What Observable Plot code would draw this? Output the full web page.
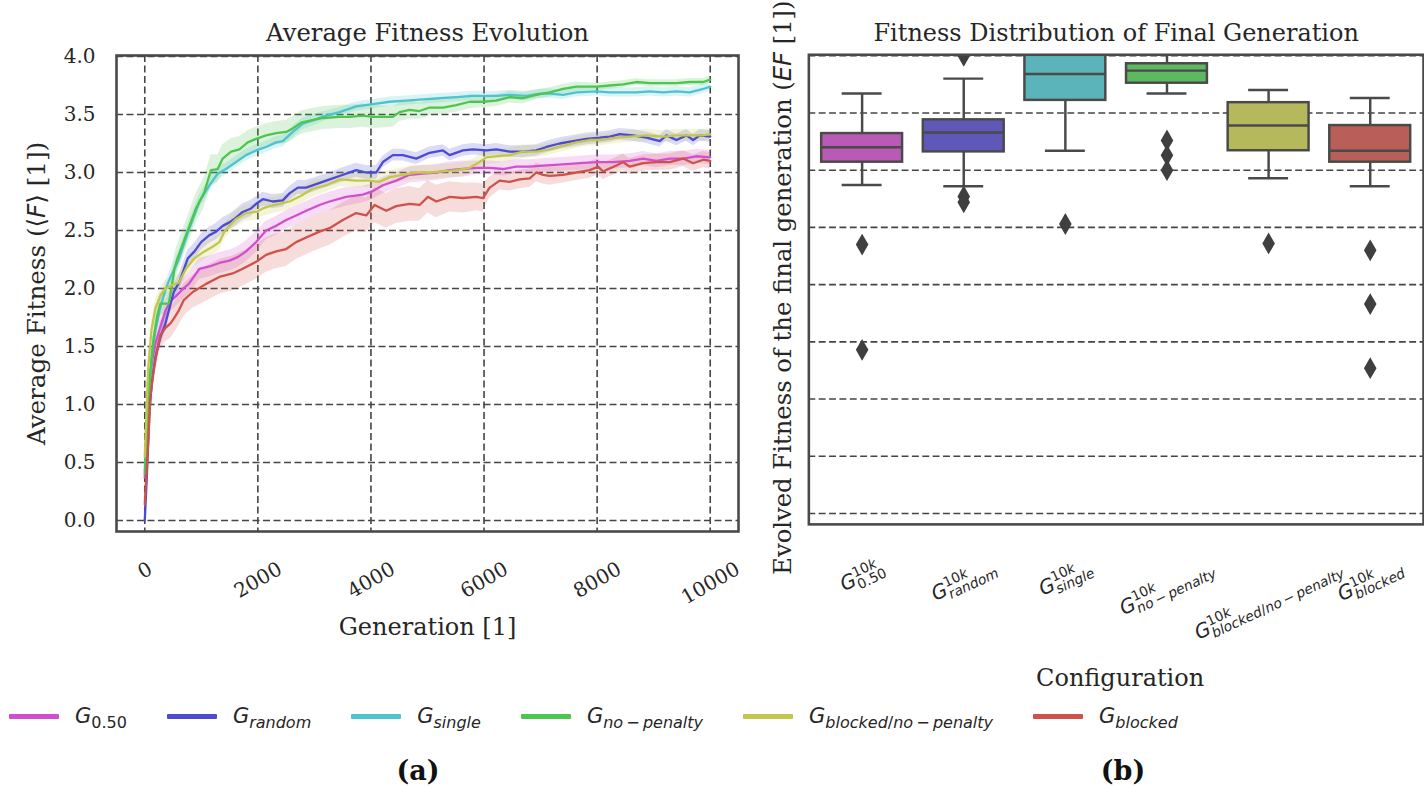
<!DOCTYPE html>
<html>
<head>
<meta charset="utf-8">
<script src="https://cdn.jsdelivr.net/npm/d3@7"></script>
<script src="https://cdn.jsdelivr.net/npm/@observablehq/plot@0.6"></script>
<style>
  html, body { margin: 0; padding: 0; background: #fff; }
  body { width: 1424px; height: 786px; overflow: hidden; position: relative; font-family: "DejaVu Serif"; color: #262626; }
  #plotA { position: absolute; left: 0; top: 0; }
  #plotB { position: absolute; left: 760px; top: 0; }
  #legend { position: absolute; left: 9px; top: 702px; display: flex; align-items: center; gap: 40px;
            font-family: "DejaVu Sans"; font-size: 21px; color: #262626; }
  .item { display: flex; align-items: center; gap: 16px; position: relative; height: 28px; }
  .sw { display: inline-block; width: 50px; height: 5px; border-radius: 1px; }
  .sub { font-size: 16px; position: relative; top: 5px; }
  #legtitle { position: absolute; left: 3px; top: -38px; font-family: "DejaVu Serif"; font-size: 24px; white-space: nowrap; }
  .panel { position: absolute; top: 770px; transform: translate(-50%, -50%); font-family: "DejaVu Serif"; font-weight: bold; font-size: 27px; color: #111; }
</style>
</head>
<body>
<div id="plotA"></div>
<div id="plotB"></div>
<div id="legend"></div>
<div class="panel" style="left:418px">(a)</div>
<div class="panel" style="left:1123px">(b)</div>
<script>
// ---------------- data ----------------
// each entry: [generation, mean fitness, half-width of the shaded band]
const g050 = [[0,0.37,0.05],[71,1.15,0.09],[130,1.38,0.09],[189,1.53,0.09],[277,1.67,0.09],[366,1.81,0.09],[454,1.89,0.09],[543,1.93,0.09],[661,1.99,0.09],[779,2.04,0.09],[967,2.17,0.09],[1144,2.19,0.09],[1319,2.22,0.09],[1497,2.24,0.09],[1644,2.27,0.09],[1791,2.32,0.09],[1969,2.40,0.09],[2146,2.50,0.08],[2323,2.54,0.08],[2500,2.59,0.08],[2677,2.63,0.08],[2855,2.67,0.08],[3090,2.72,0.08],[3267,2.75,0.08],[3562,2.79,0.08],[3857,2.81,0.07],[4034,2.84,0.07],[4211,2.89,0.07],[4447,2.93,0.07],[4683,2.98,0.07],[4919,2.99,0.07],[5155,3.00,0.07],[5391,3.02,0.07],[5627,3.03,0.07],[5863,3.04,0.06],[6099,3.04,0.06],[6335,3.03,0.06],[6571,3.05,0.06],[6807,3.05,0.06],[7043,3.06,0.06],[7397,3.07,0.06],[7692,3.08,0.06],[7987,3.09,0.06],[8282,3.09,0.06],[8577,3.10,0.06],[8813,3.12,0.06],[9049,3.10,0.06],[9285,3.12,0.06],[9521,3.12,0.06],[9757,3.14,0.06],[10000,3.13,0.06]];
const gRandom = [[0,0.0,0.03],[41,0.43,0.06],[83,0.95,0.07],[130,1.21,0.07],[189,1.41,0.07],[277,1.58,0.07],[366,1.70,0.07],[425,1.81,0.07],[513,1.97,0.07],[614,2.06,0.07],[761,2.26,0.07],[879,2.32,0.07],[997,2.40,0.07],[1144,2.46,0.07],[1262,2.49,0.07],[1378,2.54,0.07],[1497,2.57,0.07],[1614,2.61,0.07],[1732,2.66,0.07],[1880,2.69,0.07],[1969,2.73,0.06],[2088,2.77,0.06],[2265,2.75,0.06],[2441,2.76,0.06],[2560,2.82,0.06],[2707,2.87,0.06],[2855,2.87,0.06],[3031,2.90,0.06],[3208,2.93,0.06],[3444,2.97,0.06],[3739,3.02,0.06],[3916,3.00,0.06],[4093,3.00,0.06],[4211,3.09,0.05],[4388,3.15,0.05],[4565,3.15,0.05],[4801,3.12,0.05],[5037,3.17,0.05],[5273,3.19,0.05],[5391,3.15,0.05],[5627,3.19,0.05],[5804,3.20,0.05],[6040,3.19,0.05],[6217,3.20,0.05],[6453,3.18,0.05],[6689,3.18,0.05],[6925,3.19,0.05],[7102,3.22,0.05],[7338,3.25,0.05],[7574,3.27,0.05],[7810,3.29,0.05],[8046,3.30,0.05],[8223,3.31,0.05],[8400,3.33,0.05],[8636,3.32,0.05],[8872,3.30,0.05],[9108,3.27,0.05],[9226,3.32,0.05],[9403,3.28,0.05],[9580,3.32,0.05],[9698,3.28,0.05],[9816,3.32,0.05],[10000,3.31,0.05]];
const gSingle = [[0,0.43,0.05],[71,1.07,0.08],[130,1.44,0.08],[189,1.64,0.08],[277,1.84,0.08],[366,1.99,0.07],[454,2.10,0.07],[584,2.23,0.07],[790,2.52,0.07],[967,2.75,0.06],[1144,2.89,0.06],[1290,2.99,0.06],[1437,3.03,0.05],[1614,3.09,0.05],[1791,3.15,0.05],[1969,3.19,0.05],[2146,3.22,0.05],[2323,3.26,0.05],[2441,3.27,0.05],[2618,3.35,0.05],[2794,3.42,0.05],[2971,3.45,0.05],[3208,3.49,0.04],[3444,3.52,0.04],[3739,3.57,0.04],[4034,3.59,0.04],[4329,3.61,0.04],[4624,3.62,0.04],[4919,3.63,0.04],[5214,3.64,0.04],[5509,3.65,0.04],[5804,3.66,0.04],[6040,3.66,0.04],[6217,3.66,0.04],[6453,3.67,0.04],[6748,3.66,0.04],[6984,3.68,0.04],[7161,3.68,0.04],[7397,3.67,0.04],[7633,3.69,0.04],[7987,3.70,0.04],[8223,3.69,0.04],[8459,3.69,0.04],[8695,3.69,0.04],[8931,3.70,0.04],[9167,3.69,0.04],[9403,3.70,0.04],[9639,3.69,0.04],[9875,3.72,0.04],[10000,3.74,0.04]];
const gNoPenalty = [[0,0.40,0.05],[59,0.86,0.08],[100,1.30,0.10],[159,1.58,0.10],[218,1.76,0.10],[277,1.87,0.10],[366,1.87,0.10],[425,1.87,0.10],[484,2.04,0.11],[525,2.17,0.12],[572,2.25,0.12],[730,2.46,0.12],[906,2.69,0.13],[1053,2.83,0.13],[1171,3.02,0.13],[1290,3.03,0.12],[1378,3.12,0.12],[1526,3.18,0.11],[1674,3.20,0.11],[1821,3.26,0.10],[1969,3.29,0.10],[2146,3.32,0.10],[2323,3.34,0.10],[2500,3.35,0.10],[2618,3.38,0.10],[2765,3.43,0.10],[2942,3.45,0.10],[3149,3.47,0.10],[3444,3.48,0.10],[3621,3.48,0.10],[3857,3.49,0.10],[4034,3.48,0.10],[4388,3.48,0.09],[4506,3.52,0.08],[4683,3.54,0.08],[4860,3.53,0.07],[5037,3.56,0.07],[5273,3.56,0.06],[5509,3.58,0.06],[5745,3.61,0.06],[5981,3.61,0.05],[6217,3.62,0.05],[6453,3.65,0.05],[6689,3.64,0.05],[6925,3.67,0.04],[7161,3.69,0.04],[7397,3.72,0.04],[7633,3.74,0.04],[7987,3.74,0.03],[8223,3.75,0.03],[8459,3.76,0.03],[8695,3.78,0.03],[8931,3.77,0.03],[9167,3.77,0.03],[9403,3.77,0.03],[9639,3.78,0.03],[9875,3.78,0.03],[10000,3.80,0.03]];
const gBlockedNoPenalty = [[0,0.55,0.05],[59,1.30,0.08],[118,1.64,0.08],[189,1.83,0.07],[277,1.94,0.07],[366,2.00,0.07],[484,2.03,0.07],[602,2.05,0.07],[730,2.17,0.07],[879,2.26,0.07],[1053,2.32,0.07],[1200,2.36,0.07],[1319,2.40,0.07],[1408,2.49,0.07],[1497,2.54,0.07],[1614,2.60,0.07],[1791,2.65,0.07],[1969,2.66,0.07],[2088,2.69,0.07],[2205,2.71,0.07],[2382,2.73,0.07],[2560,2.75,0.07],[2765,2.80,0.07],[2971,2.86,0.07],[3208,2.89,0.06],[3444,2.94,0.06],[3739,2.93,0.06],[3975,2.93,0.06],[4152,2.92,0.06],[4329,2.96,0.06],[4565,2.98,0.06],[4801,3.00,0.06],[5037,3.00,0.06],[5273,3.01,0.06],[5509,3.02,0.06],[5745,3.04,0.06],[5922,3.09,0.06],[6040,3.13,0.06],[6217,3.14,0.06],[6453,3.15,0.06],[6689,3.18,0.06],[6925,3.18,0.05],[7161,3.20,0.05],[7397,3.23,0.05],[7633,3.26,0.05],[7869,3.28,0.05],[8046,3.28,0.05],[8341,3.30,0.05],[8577,3.31,0.05],[8872,3.32,0.05],[9167,3.31,0.05],[9403,3.32,0.05],[9639,3.32,0.05],[9875,3.32,0.05],[10000,3.33,0.05]];
const gBlocked = [[0,0.14,0.05],[59,0.66,0.10],[100,1.07,0.12],[159,1.30,0.12],[218,1.47,0.12],[277,1.60,0.12],[366,1.66,0.12],[454,1.70,0.13],[513,1.74,0.13],[602,1.81,0.13],[690,1.90,0.14],[848,1.97,0.14],[1085,2.04,0.15],[1319,2.10,0.15],[1555,2.13,0.15],[1732,2.17,0.15],[1969,2.23,0.15],[2146,2.29,0.15],[2323,2.32,0.15],[2500,2.34,0.15],[2677,2.40,0.15],[2855,2.44,0.15],[3090,2.49,0.15],[3267,2.52,0.15],[3503,2.59,0.15],[3739,2.65,0.15],[3916,2.63,0.15],[4064,2.72,0.15],[4270,2.67,0.15],[4447,2.71,0.15],[4683,2.73,0.15],[4860,2.72,0.14],[5007,2.79,0.14],[5155,2.75,0.14],[5391,2.79,0.13],[5627,2.78,0.13],[5863,2.79,0.12],[5981,2.78,0.12],[6099,2.87,0.09],[6276,2.93,0.08],[6453,2.92,0.08],[6630,2.94,0.08],[6807,2.95,0.08],[6925,3.00,0.08],[7043,2.98,0.08],[7161,2.97,0.08],[7397,2.98,0.07],[7633,3.00,0.07],[7869,3.02,0.07],[8016,3.05,0.07],[8105,3.01,0.07],[8341,3.06,0.07],[8459,3.09,0.07],[8577,3.05,0.07],[8813,3.08,0.07],[9049,3.09,0.07],[9285,3.09,0.07],[9521,3.12,0.07],[9698,3.08,0.07],[9875,3.11,0.07],[10000,3.10,0.07]];

const seriesKeys   = ["G0.50", "Grandom", "Gsingle", "Gno-penalty", "Gblocked/no-penalty", "Gblocked"];
const seriesSubs   = ["0.50", "random", "single", "no\u2009\u2212\u2009penalty", "blocked/no\u2009\u2212\u2009penalty", "blocked"];
const seriesData   = [g050, gRandom, gSingle, gNoPenalty, gBlockedNoPenalty, gBlocked];
const lineColors   = ["#d14fcf", "#4d4bd2", "#4cc3cf", "#4dc54e", "#c3c64c", "#d0514a"];
const boxColors    = ["#b95bb6", "#5f58b9", "#5bb4ba", "#5db960", "#b6b95b", "#b95f58"];

const xTicks = [0, 2000, 4000, 6000, 8000, 10000];
const yTicks = [0, 0.5, 1, 1.5, 2, 2.5, 3, 3.5, 4];

// box-plot summaries of the final generation, one per configuration
const whiskerLo = [2.87, 2.86, 3.17, 3.67, 2.93, 2.86];
const q1        = [3.07, 3.16, 3.61, 3.76, 3.17, 3.07];
const median    = [3.20, 3.33, 3.84, 3.87, 3.39, 3.17];
const q3        = [3.32, 3.44, 4.05, 3.93, 3.59, 3.39];
const whiskerHi = [3.67, 3.80, 4.25, 4.06, 3.70, 3.63];
const outlierCat = [0, 0, 1, 1, 1, 2, 3, 3, 3, 4, 5, 5, 5];
const outlierVal = [2.35, 1.43, 4.00, 2.77, 2.72, 2.53, 3.26, 3.13, 3.00, 2.36, 2.30, 1.83, 1.27];

const titleA = "Average Fitness Evolution";
const titleB = "Fitness Distribution of Final Generation";
const xLabelA = "Generation [1]";
const yLabelA = "Average Fitness (\u27E8F\u27E9 [1])";
const yLabelB = "Evolved Fitness of the final generation (EF [1])";
const legendTitle = "Configuration";

// ---------------- derived tables ----------------
const rows = [];
seriesData.forEach((pts, s) => pts.forEach(([gen, m, h]) =>
  rows.push({series: seriesKeys[s], color: lineColors[s], gen, mean: m, lo: m - h, hi: m + h})));
const boxes = seriesKeys.map((k, i) => ({cat: k, lo: whiskerLo[i], q1: q1[i], med: median[i], q3: q3[i], hi: whiskerHi[i], color: boxColors[i]}));
const outliers = outlierCat.map((c, i) => ({cat: seriesKeys[c], v: outlierVal[i]}));

// ---------------- styling ----------------
const gridStyle = {stroke: "#454545", strokeOpacity: 1, strokeWidth: 1.6, strokeDasharray: "7,3.5"};
const edge = "#4a4a4a";
const frameStyle = {stroke: "#4a4a4a", strokeWidth: 2.6};
const yDomain = [-0.0948, 4.0086];
const H = 650, MT = 55, MB = 119;
const titleSize = 24.3, labelSize = 24.6, tickSize = 20;

const plotA = Plot.plot({
  width: 760, height: H, marginLeft: 116, marginRight: 22, marginTop: MT, marginBottom: MB,
  style: {fontFamily: "DejaVu Serif", fontSize: tickSize + "px", color: "#262626", background: "transparent", overflow: "visible"},
  x: {domain: [-500, 10500], axis: null},
  y: {domain: yDomain, axis: null},
  color: {type: "identity"},
  marks: [
    Plot.gridX(xTicks, gridStyle),
    Plot.gridY(yTicks, gridStyle),
    Plot.areaY(rows, {x: "gen", y1: "lo", y2: "hi", z: "series", fill: "color", fillOpacity: 0.2}),
    Plot.line(rows, {x: "gen", y: "mean", z: "series", stroke: "color", strokeWidth: 2.3}),
    Plot.frame(frameStyle),
    Plot.axisY(yTicks, {tickSize: 0, tickPadding: 21, tickFormat: d3.format(".1f"), label: null, fontSize: tickSize}),
    Plot.text(xTicks, {x: d => d, text: d => String(d), frameAnchor: "bottom", rotate: -30, fontSize: tickSize}),
    Plot.text([titleA], {text: d => d, frameAnchor: "top", textAnchor: "middle", lineAnchor: "middle", dy: -22, fontSize: titleSize}),
    Plot.text([xLabelA], {text: d => d, frameAnchor: "bottom", textAnchor: "middle", lineAnchor: "middle", dy: 96, fontSize: 24}),
    Plot.text([yLabelA], {text: d => d, frameAnchor: "left", textAnchor: "middle", lineAnchor: "middle", dx: -79, rotate: -90, fontSize: labelSize})
  ]
});

const innerB = 673 - 49 - 1;
const capInset = innerB / seriesKeys.length * 0.8 / 4;
const plotB = Plot.plot({
  width: 673, height: H, marginLeft: 49, marginRight: 1, marginTop: MT, marginBottom: MB,
  style: {fontFamily: "DejaVu Serif", fontSize: tickSize + "px", color: "#262626", background: "transparent", overflow: "visible"},
  x: {type: "band", domain: seriesKeys, paddingInner: 0.2, paddingOuter: 0.1, axis: null},
  y: {domain: yDomain, axis: null},
  color: {type: "identity"},
  marks: [
    Plot.gridY(yTicks, gridStyle),
    Plot.ruleX(boxes, {x: "cat", y1: "lo", y2: "q1", stroke: edge, strokeWidth: 2.5, clip: true}),
    Plot.ruleX(boxes, {x: "cat", y1: "q3", y2: "hi", stroke: edge, strokeWidth: 2.5, clip: true}),
    Plot.tickY(boxes, {x: "cat", y: "lo", insetLeft: capInset, insetRight: capInset, stroke: edge, strokeWidth: 2.5, clip: true}),
    Plot.tickY(boxes, {x: "cat", y: "hi", insetLeft: capInset, insetRight: capInset, stroke: edge, strokeWidth: 2.5, clip: true}),
    Plot.barY(boxes, {x: "cat", y1: "q1", y2: "q3", fill: "color", stroke: edge, strokeWidth: 2.5, clip: true}),
    Plot.tickY(boxes, {x: "cat", y: "med", stroke: edge, strokeWidth: 2.5, clip: true}),
    Plot.dot(outliers, {x: "cat", y: "v", symbol: "diamond", r: 6.7, fill: "#3f3f3f", stroke: "none", clip: true}),
    Plot.frame(frameStyle),
    Plot.text(seriesKeys, {x: d => d, text: d => d, frameAnchor: "bottom", rotate: -25, fontSize: tickSize}),
    Plot.text([titleB], {text: d => d, frameAnchor: "top", textAnchor: "middle", lineAnchor: "middle", dy: -22, fontSize: titleSize}),
    Plot.text([yLabelB], {text: d => d, frameAnchor: "left", textAnchor: "middle", lineAnchor: "middle", dx: -26, dy: -2, rotate: -90, fontSize: labelSize})
  ]
});

document.getElementById("plotA").appendChild(plotA);
document.getElementById("plotB").appendChild(plotB);

// ---------------- rich text helpers ----------------
const SVGNS = "http://www.w3.org/2000/svg";
function tokens(str) { return str.match(/[A-Za-z]+|[^A-Za-z]+/g).map(t => ({t, it: /[A-Za-z]/.test(t)})); }
function textsWith(svg, strings) {
  const set = new Set(strings);
  return d3.select(svg).selectAll("text").filter(function () { return set.has(this.textContent); });
}
function richSVG(el, parts) {
  while (el.firstChild) el.removeChild(el.firstChild);
  let cur = 0; const groups = {};
  for (const p of parts) {
    const ts = document.createElementNS(SVGNS, "tspan");
    ts.textContent = p.t;
    if (p.sans) ts.setAttribute("font-family", "DejaVu Sans");
    if (p.it) ts.setAttribute("font-style", "italic");
    if (p.size) ts.setAttribute("font-size", p.size);
    const sh = p.shift || 0;
    if (sh !== cur) { ts.setAttribute("dy", sh - cur); cur = sh; }
    if (p.back) ts.setAttribute("dx", -(groups[p.back] || 0));
    el.appendChild(ts);
    if (p.group) groups[p.group] = (groups[p.group] || 0) + ts.getComputedTextLength();
  }
}
function placeRotated(sel, angle, pad) {
  const a = angle * Math.PI / 180, bottom = H - MB;
  sel.each(function () {
    const tr = this.getAttribute("transform") || "";
    const m = /translate\(\s*([-\d.e]+)[ ,]+([-\d.e]+)\s*\)/.exec(tr);
    const X = m ? +m[1] : +(this.getAttribute("x") || 0);
    this.removeAttribute("x"); this.removeAttribute("y");
    this.setAttribute("transform", "");
    const bb = this.getBBox();
    const hr = bb.width * Math.sin(a) + bb.height * Math.cos(a);
    const cx = bb.x + bb.width / 2, cy = bb.y + bb.height / 2;
    this.setAttribute("transform", `translate(${X},${bottom + pad + hr / 2}) rotate(${-angle}) translate(${-cx},${-cy})`);
  });
}

// y labels with math parts
textsWith(plotA, [yLabelA]).each(function () {
  richSVG(this, [{t: "Average Fitness ("}, {t: "\u27E8", sans: true}, {t: "F", sans: true, it: true}, {t: "\u27E9", sans: true}, {t: " [1])"}]);
});
textsWith(plotB, [yLabelB]).each(function () {
  richSVG(this, [{t: "Evolved Fitness of the final generation ("}, {t: "EF", sans: true, it: true}, {t: " [1])"}]);
});
// categorical tick labels as G^{10k}_{sub}
const catLabels = textsWith(plotB, seriesKeys);
catLabels.each(function () {
  const i = seriesKeys.indexOf(this.textContent);
  const parts = [{t: "G", sans: true, it: true, size: 20}];
  tokens("10k").forEach(tk => parts.push({...tk, sans: true, size: 14, shift: -8, group: "sup"}));
  tokens(seriesSubs[i]).forEach((tk, j) => parts.push({...tk, sans: true, size: 14, shift: 5, back: j === 0 ? "sup" : null}));
  richSVG(this, parts);
});
placeRotated(textsWith(plotA, xTicks.map(String)), 30, 25);
placeRotated(catLabels, 25, 29);

// ---------------- legend ----------------
const legend = d3.select("#legend");
seriesKeys.forEach((k, i) => {
  const item = legend.append("div").attr("class", "item");
  item.append("span").attr("class", "sw").style("background", lineColors[i]);
  const lab = item.append("span");
  lab.append("span").style("font-style", "italic").text("G");
  const sub = lab.append("span").attr("class", "sub");
  tokens(seriesSubs[i]).forEach(tk => sub.append("span").style("font-style", tk.it ? "italic" : "normal").text(tk.t));
  if (i === seriesKeys.length - 1) item.append("div").attr("id", "legtitle").text(legendTitle);
});
</script>
</body>
</html>
